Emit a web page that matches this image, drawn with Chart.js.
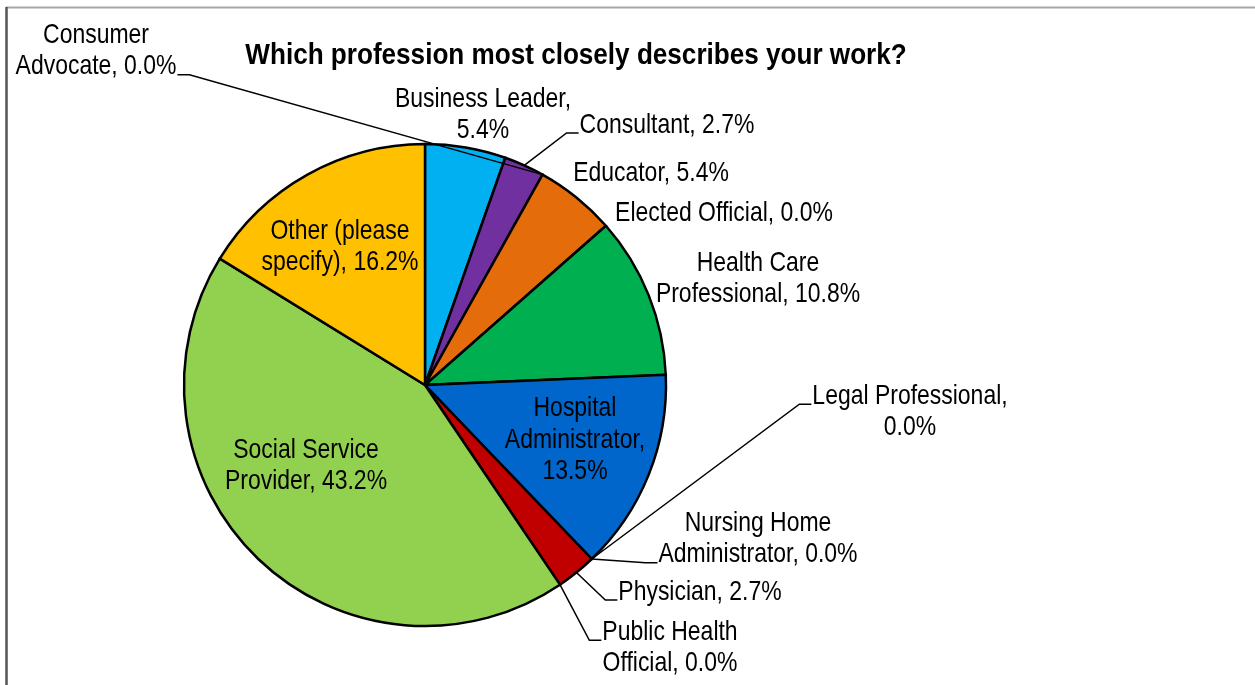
<!DOCTYPE html>
<html>
<head>
<meta charset="utf-8">
<title>Which profession most closely describes your work?</title>
<script src="https://cdn.jsdelivr.net/npm/chart.js@4.4.1/dist/chart.umd.min.js"></script>
<style>
  html, body { margin: 0; padding: 0; background: #fff; }
  #wrap { position: relative; width: 1255px; height: 685px; }
</style>
</head>
<body>
<div id="wrap"><canvas id="pie"></canvas></div>
<script>
// survey answers, in the order Excel stacks the slices (clockwise from 12 o'clock)
var professions = [
  'Business Leader', 'Consultant', 'Consumer Advocate', 'Educator', 'Elected Official',
  'Health Care Professional', 'Hospital Administrator', 'Legal Professional',
  'Nursing Home Administrator', 'Physician', 'Public Health Official',
  'Social Service Provider', 'Other (please specify)'
];
var shares = [5.4, 2.7, 0.0, 5.4, 0.0, 10.8, 13.5, 0.0, 0.0, 2.7, 0.0, 43.2, 16.2];
var sliceColors = [
  '#00B0F0', '#7030A0', '#FF0000', '#E46C0A', '#4F81BD',
  '#00B050', '#0066CC', '#8064A2', '#4BACC6', '#C00000', '#F79646',
  '#92D050', '#FFC000'
];
var titleText = 'Which profession most closely describes your work?';

// label layout: block centre relative to the pie centre, word breaks, optional leader line
// leader: side of the text the line joins, and which text line it joins
var labelLayout = [
  { dx: 58,   dy: -270, breaks: [2] },
  { dx: 242,  dy: -260, breaks: [],     leader: { side: 'left', line: 0 } },
  { dx: -329, dy: -334, breaks: [1],    leader: { side: 'right', line: 1 } },
  { dx: 226,  dy: -212, breaks: [] },
  { dx: 299,  dy: -172, breaks: [] },
  { dx: 333,  dy: -106, breaks: [2] },
  { dx: 150,  dy: 55,   breaks: [1, 2] },
  { dx: 485,  dy: 27,   breaks: [2],    leader: { side: 'left', line: 0 } },
  { dx: 333,  dy: 154,  breaks: [2],    leader: { side: 'left', line: 1 } },
  { dx: 275,  dy: 207,  breaks: [],     leader: { side: 'left', line: 0 } },
  { dx: 245,  dy: 263,  breaks: [2],    leader: { side: 'left', line: 0 } },
  { dx: -119, dy: 81,   breaks: [2] },
  { dx: -85,  dy: -138, breaks: [2] }
];

var LABEL_SIZE = 28;
var LINE_GAP = 31.5;

// Arial Narrow look: use the real narrow face if present, else squeeze Liberation Sans
function fontInstalled(name) {
  var c = document.createElement('canvas').getContext('2d');
  c.font = '40px monospace';
  var a = c.measureText('Administrator WWW 0.0%').width;
  c.font = '40px "' + name + '", monospace';
  var b = c.measureText('Administrator WWW 0.0%').width;
  return a !== b;
}
var narrowFace = fontInstalled('Liberation Sans Narrow');
var labelFont = narrowFace ? '"Liberation Sans Narrow"' : '"Liberation Sans", Arial, sans-serif';
var labelSqueeze = narrowFace ? 1 : 0.82;

function labelLines(i) {
  var words = (professions[i] + ', ' + shares[i].toFixed(1) + '%').split(' ');
  var cuts = [0].concat(labelLayout[i].breaks).concat([words.length]);
  var out = [];
  for (var k = 0; k < cuts.length - 1; k++) out.push(words.slice(cuts[k], cuts[k + 1]).join(' '));
  return out;
}

var frameAndLabels = {
  id: 'frameAndLabels',
  beforeDraw: function (chart) {
    var ctx = chart.ctx;
    ctx.save();
    ctx.fillStyle = '#fff';
    ctx.fillRect(0, 0, chart.width, chart.height);
    ctx.strokeStyle = '#a6a6a6';
    ctx.lineWidth = 2;
    ctx.beginPath();
    ctx.moveTo(6, 7.5);
    ctx.lineTo(chart.width, 7.5);
    ctx.stroke();
    ctx.strokeStyle = '#555';
    ctx.lineWidth = 2.5;
    ctx.beginPath();
    ctx.moveTo(6.5, 7);
    ctx.lineTo(6.5, chart.height);
    ctx.stroke();
    ctx.restore();
  },
  afterDraw: function (chart) {
    var ctx = chart.ctx;
    var arcs = chart.getDatasetMeta(0).data;
    if (!arcs.length) return;
    var cx = arcs[0].x, cy = arcs[0].y;

    ctx.save();
    // title: bold, a little condensed
    ctx.fillStyle = '#000';
    ctx.font = 'bold 29px "Liberation Sans", Arial, sans-serif';
    ctx.textAlign = 'center';
    ctx.textBaseline = 'middle';
    ctx.save();
    ctx.translate(576, 56);
    ctx.scale(0.9, 1);
    ctx.fillText(titleText, 0, 0);
    ctx.restore();

    ctx.font = LABEL_SIZE + 'px ' + labelFont;
    for (var i = 0; i < arcs.length; i++) {
      var lay = labelLayout[i];
      var lines = labelLines(i);
      var bx = cx + lay.dx, by = cy + lay.dy;
      var top = by - (lines.length - 1) * LINE_GAP / 2;
      var widths = lines.map(function (t) { return ctx.measureText(t).width * labelSqueeze; });
      var maxW = Math.max.apply(null, widths);

      for (var k = 0; k < lines.length; k++) {
        ctx.save();
        ctx.translate(bx, top + k * LINE_GAP);
        ctx.scale(labelSqueeze, 1);
        ctx.fillText(lines[k], 0, 0);
        ctx.restore();
      }

      if (lay.leader) {
        var a = arcs[i];
        var mid = (a.startAngle + a.endAngle) / 2;
        var r = a.outerRadius;
        var sx = a.x + Math.cos(mid) * r;
        var sy = a.y + Math.sin(mid) * r;
        var ly = top + lay.leader.line * LINE_GAP + 8;
        var edge, knee;
        if (lay.leader.side === 'left') {
          edge = bx - maxW / 2 - 1;
          knee = edge - 12;
        } else {
          edge = bx + widths[lay.leader.line] / 2 + 1;
          knee = edge + 12;
        }
        ctx.strokeStyle = '#000';
        ctx.lineWidth = 1.5;
        ctx.beginPath();
        ctx.moveTo(sx, sy);
        ctx.lineTo(knee, ly);
        ctx.lineTo(edge, ly);
        ctx.stroke();
      }
    }
    ctx.restore();
  }
};

new Chart(document.getElementById('pie'), {
  type: 'pie',
  data: {
    labels: professions,
    datasets: [{
      data: shares,
      backgroundColor: sliceColors,
      borderColor: '#000',
      borderWidth: 2.5,
      borderJoinStyle: 'miter'
    }]
  },
  options: {
    animation: false,
    responsive: true,
    maintainAspectRatio: false,
    radius: 241,
    layout: { padding: { left: 183, right: 588, top: 143, bottom: 58 } },
    plugins: {
      legend: { display: false },
      title: { display: false },
      tooltip: { enabled: false }
    }
  },
  plugins: [frameAndLabels]
});
</script>
</body>
</html>
